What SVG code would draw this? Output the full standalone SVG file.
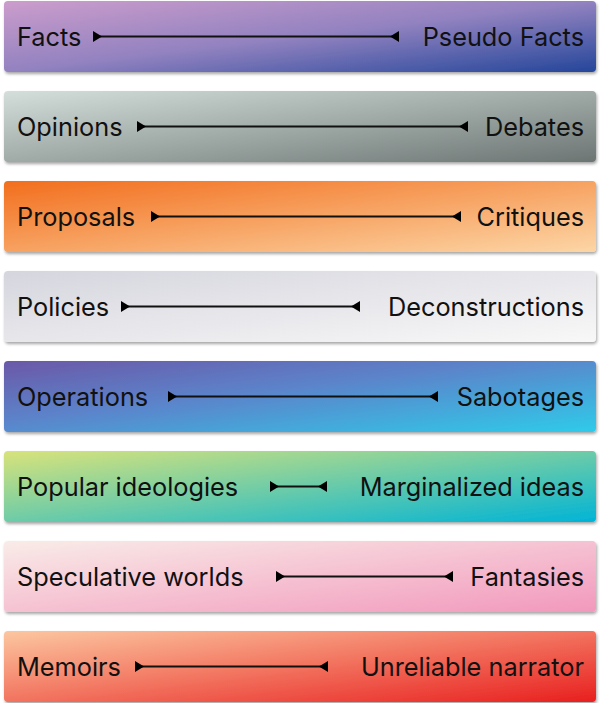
<svg xmlns="http://www.w3.org/2000/svg" width="600" height="703" viewBox="0 0 600 703">
<style>
.bar{filter:url(#sh);}
.t{font-family:Inter,"Noto Sans","Liberation Sans",sans-serif;font-size:25.3px;fill:#111;}
.r{text-anchor:end;}
.c{stroke:#111;stroke-width:2;fill:none;marker-start:url(#ms);marker-end:url(#me);}
</style>
<defs>
<filter id="sh" x="-5%" y="-20%" width="110%" height="150%">
<feDropShadow dx="1" dy="2" stdDeviation="1.5" flood-color="#000" flood-opacity="0.35"/>
</filter>
<marker id="ms" markerUnits="userSpaceOnUse" viewBox="0 0 9 11" refX="0" refY="5.5" markerWidth="9" markerHeight="11" orient="auto"><path d="M0,0 L9,5.5 L0,11 Z" fill="#000"/></marker>
<marker id="me" markerUnits="userSpaceOnUse" viewBox="0 0 9 11" refX="9" refY="5.5" markerWidth="9" markerHeight="11" orient="auto"><path d="M9,0 L0,5.5 L9,11 Z" fill="#000"/></marker>
<linearGradient id="g1" x1="0" y1="0" x2="1" y2="1"><stop offset="0" stop-color="#cc9dcc"/><stop offset="0.5" stop-color="#9282c0"/><stop offset="1" stop-color="#24469a"/></linearGradient>
<linearGradient id="g2" x1="0" y1="0" x2="1" y2="1"><stop offset="0" stop-color="#d4dfdb"/><stop offset="1" stop-color="#6c7573"/></linearGradient>
<linearGradient id="g3" x1="0" y1="0" x2="1" y2="1"><stop offset="0" stop-color="#f26e1d"/><stop offset="1" stop-color="#fcd6a6"/></linearGradient>
<linearGradient id="g4" x1="0" y1="0" x2="1" y2="1"><stop offset="0" stop-color="#d5d5de"/><stop offset="1" stop-color="#f8f8f8"/></linearGradient>
<linearGradient id="g5" x1="0" y1="0" x2="1" y2="1"><stop offset="0" stop-color="#6b58a8"/><stop offset="0.45" stop-color="#5a86cc"/><stop offset="1" stop-color="#2ecbea"/></linearGradient>
<linearGradient id="g6" x1="0" y1="0" x2="1" y2="1"><stop offset="0" stop-color="#d9e37a"/><stop offset="1" stop-color="#00b4d6"/></linearGradient>
<linearGradient id="g7" x1="0" y1="0" x2="1" y2="1"><stop offset="0" stop-color="#f9ece8"/><stop offset="1" stop-color="#f298bc"/></linearGradient>
<linearGradient id="g8" x1="0" y1="0" x2="1" y2="1"><stop offset="0" stop-color="#fcc7a0"/><stop offset="1" stop-color="#e81f1e"/></linearGradient>
</defs>
<g id="row1"><rect class="bar" x="4" y="1" width="592" height="71" rx="4" fill="url(#g1)"/><text class="t" x="17" y="45.5">Facts</text><text class="t r" x="584" y="45.5">Pseudo Facts</text></g>
<g id="row2"><rect class="bar" x="4" y="91" width="592" height="71" rx="4" fill="url(#g2)"/><text class="t" x="17" y="135.5">Opinions</text><text class="t r" x="584" y="135.5">Debates</text></g>
<g id="row3"><rect class="bar" x="4" y="181" width="592" height="71" rx="4" fill="url(#g3)"/><text class="t" x="17" y="225.5">Proposals</text><text class="t r" x="584" y="225.5">Critiques</text></g>
<g id="row4"><rect class="bar" x="4" y="271" width="592" height="71" rx="4" fill="url(#g4)"/><text class="t" x="17" y="315.5">Policies</text><text class="t r" x="584" y="315.5">Deconstructions</text></g>
<g id="row5"><rect class="bar" x="4" y="361" width="592" height="71" rx="4" fill="url(#g5)"/><text class="t" x="17" y="405.5">Operations</text><text class="t r" x="584" y="405.5">Sabotages</text></g>
<g id="row6"><rect class="bar" x="4" y="451" width="592" height="71" rx="4" fill="url(#g6)"/><text class="t" x="17" y="495.5">Popular ideologies</text><text class="t r" x="584" y="495.5">Marginalized ideas</text></g>
<g id="row7"><rect class="bar" x="4" y="541" width="592" height="71" rx="4" fill="url(#g7)"/><text class="t" x="17" y="585.5">Speculative worlds</text><text class="t r" x="584" y="585.5">Fantasies</text></g>
<g id="row8"><rect class="bar" x="4" y="631" width="592" height="71" rx="4" fill="url(#g8)"/><text class="t" x="17" y="675.5">Memoirs</text><text class="t r" x="584" y="675.5">Unreliable narrator</text></g>
<g id="connectors">
<line class="c" x1="93" y1="36.5" x2="399" y2="36.5"/>
<line class="c" x1="137" y1="126.5" x2="468" y2="126.5"/>
<line class="c" x1="151" y1="216.5" x2="461" y2="216.5"/>
<line class="c" x1="121" y1="306.5" x2="360" y2="306.5"/>
<line class="c" x1="168" y1="396.5" x2="438" y2="396.5"/>
<line class="c" x1="270" y1="486.5" x2="327" y2="486.5"/>
<line class="c" x1="276" y1="576.5" x2="453" y2="576.5"/>
<line class="c" x1="135" y1="666.5" x2="328" y2="666.5"/>
</g>
</svg>
